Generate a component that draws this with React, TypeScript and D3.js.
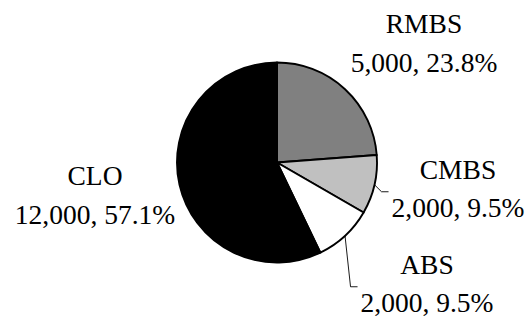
import React, { useRef, useEffect } from 'react';
import * as d3 from 'd3';

// chart data
const categories = ['RMBS', 'CMBS', 'ABS', 'CLO'];
const amounts = [5000, 2000, 2000, 12000];
const fills = ['#808080', '#c0c0c0', '#ffffff', '#000000'];

// label block centres (x) and first baseline (y), relative to the pie centre
const labelOffsets: [number, number][] = [
  [147, -129.5],
  [181, 16],
  [150, 111],
  [-182, 22.5],
];
// which labels get a leader line
const leaders = [false, true, true, false];

const W = 529;
const H = 317;

const App = () => {
  const svgRef = useRef<SVGSVGElement>(null);

  useEffect(() => {
    if (!svgRef.current) return;
    document.body.style.margin = '0';

    const svg = d3.select(svgRef.current);
    svg.selectAll('*').remove();

    const cx = 277;
    const cy = 162.5;
    const radius = 100;
    const fontSize = 27.5;
    const lineGap = 38.5;

    const total = d3.sum(amounts);
    const data = categories.map((c, i) => ({ name: c, value: amounts[i], fill: fills[i], i }));

    const pie = d3.pie<any>().value(d => d.value).sort(null);
    const arcs = pie(data);
    const arc = d3.arc<any>().innerRadius(0).outerRadius(radius);

    const g = svg.append('g').attr('transform', `translate(${cx},${cy})`);

    g.selectAll('path.slice')
      .data(arcs)
      .enter()
      .append('path')
      .attr('class', 'slice')
      .attr('d', arc)
      .attr('fill', d => d.data.fill)
      .attr('stroke', '#000')
      .attr('stroke-width', 1.9)
      .attr('stroke-linejoin', 'round');

    const fmt = d3.format(',');
    const pct = d3.format('.1%');

    arcs.forEach((a, i) => {
      const [ox, oy] = labelOffsets[i];
      const label = g.append('text')
        .attr('font-family', '"Liberation Serif", "Times New Roman", serif')
        .attr('font-size', fontSize)
        .attr('fill', '#000')
        .attr('text-anchor', 'middle');
      label.append('tspan').attr('x', ox).attr('y', oy).text(a.data.name);
      const second = label.append('tspan')
        .attr('x', ox)
        .attr('y', oy + lineGap)
        .text(`${fmt(a.data.value)}, ${pct(a.data.value / total)}`);

      if (!leaders[i]) return;
      const bb = (second.node() as SVGTSpanElement).getBBox();
      const mid = (a.startAngle + a.endAngle) / 2;
      const sx = radius * Math.sin(mid);
      const sy = -radius * Math.cos(mid);
      const endX = bb.x - 3;
      const endY = oy + lineGap / 2 - 6;
      const line = d3.line();
      g.append('path')
        .attr('d', line([[sx, sy], [endX - 7, endY], [endX, endY]]))
        .attr('fill', 'none')
        .attr('stroke', '#000')
        .attr('stroke-width', 0.9);
    });
  }, []);

  return (
    <svg
      ref={svgRef}
      width={W}
      height={H}
      style={{ display: 'block', background: '#fff' }}
    />
  );
};

export default App;
